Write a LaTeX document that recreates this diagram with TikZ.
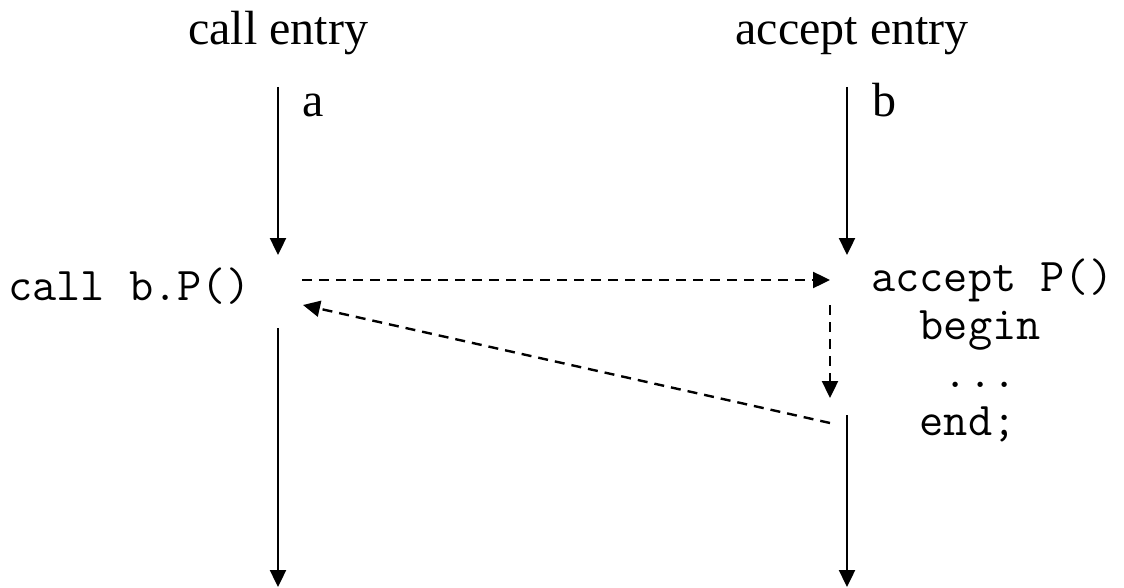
\documentclass[tikz,border=0pt]{standalone}
\usepackage{fontspec}
\setmainfont{Liberation Serif}
\usetikzlibrary{arrows.meta}
\tikzset{
    every picture/.style={line cap=butt,line join=miter},
    headlabel/.style={inner sep=0pt,font=\fontsize{48}{52}\selectfont},
    codelabel/.style={inner sep=0pt,align=left,font=\fontsize{47}{48}\selectfont\ttfamily},
    flowline/.style={-{Triangle[length=17pt,width=16pt]},line width=2.4pt},
    msgline/.style={flowline,dash pattern=on 10pt off 7pt}
}
\begin{document}
\begin{tikzpicture}[x=1pt,y=-1pt]
  \useasboundingbox (0,0) rectangle (1124,588);
  % entry labels
  \node[headlabel,anchor=base] (callhd) at (278,45) {call entry};
  \node[headlabel,anchor=base] (accepthd) at (852,45) {accept entry};
  \node[headlabel,anchor=base west] (ta) at (302,117) {a};
  \node[headlabel,anchor=base west] (tb) at (872,117) {b};
  % statements
  \node[codelabel,anchor=base west] (callst) at (8,300) {call b.P()};
  \node[codelabel,anchor=west] (acceptst) at (871,350)
    {accept P()\\\phantom{xx}begin\\\phantom{xxx}...\\\phantom{xx}end;};
  % thread ends
  \foreach \n/\x in {a/278,b/847}{
    \coordinate (\n0) at (\x,87);
    \coordinate (\n1) at (\x,255);
    \coordinate (\n3) at (\x,587);}
  \coordinate (a2) at (278,328);
  \coordinate (b2) at (847,415);
  \coordinate (m0) at (302,280);
  \coordinate (m1) at (830,280);
  \coordinate (m2) at (830,305);
  \coordinate (m3) at (830,398);
  \coordinate (m4) at (830,423);
  \coordinate (m5) at (303,305);
  \foreach \n in {a,b}{
    \draw[flowline] (\n0)--(\n1);
    \draw[flowline] (\n2)--(\n3);}
  \draw[msgline] (m0)--(m1);
  \draw[msgline] (m2)--(m3);
  \draw[msgline] (m4)--(m5);
\end{tikzpicture}
\end{document}
